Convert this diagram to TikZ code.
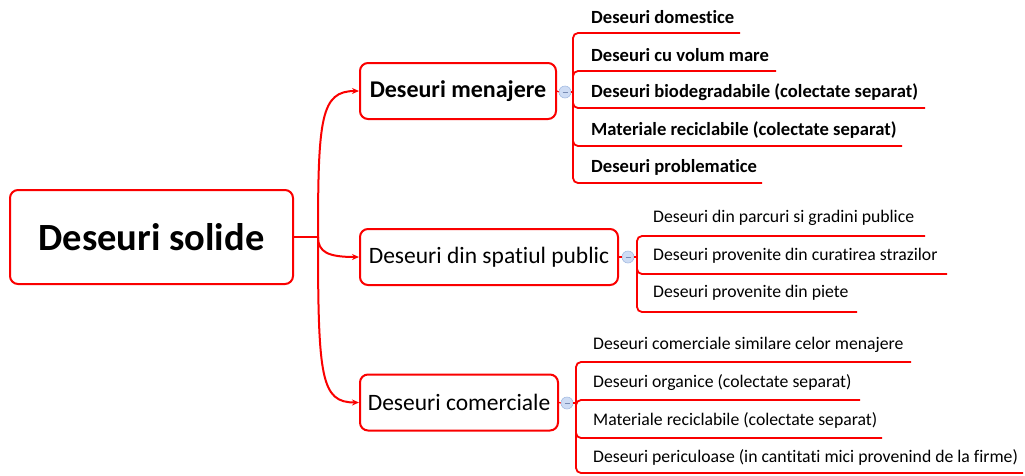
\documentclass[tikz,border=0pt]{standalone}
\usepackage{fontspec}
\setmainfont{Carlito}[Ligatures={NoCommon}]
\usetikzlibrary{arrows.meta}
\definecolor{mapred}{RGB}{250,0,0}
\definecolor{knobfill}{RGB}{206,220,244}
\definecolor{knobline}{RGB}{165,188,226}
\definecolor{knobdash}{RGB}{120,140,180}
\begin{document}
\begin{tikzpicture}[x=1pt,y=-1pt,
  box/.style={draw=mapred, line width=2pt, rounded corners=8pt, fill=white,
    inner sep=0pt, align=center, text=black},
  rootbox/.style={box, minimum width=283pt, minimum height=94pt,
    font=\fontsize{38.5}{44}\selectfont\bfseries},
  branchbox/.style={box, minimum height=56pt, font=\fontsize{23.5}{26}\selectfont},
  boldleaf/.style={anchor=west, inner sep=0pt, text=black,
    font=\fontsize{18.6}{20}\selectfont\bfseries},
  leaf/.style={anchor=west, inner sep=0pt, text=black,
    font=\fontsize{17.7}{19}\selectfont},
  conn/.style={draw=mapred, line width=2pt},
  branchconn/.style={conn, -{Stealth[length=7pt,width=6pt]}},
  leafline/.style={draw=mapred, line width=1.8pt, rounded corners=5pt},
  knob/.style={circle, draw=knobline, fill=knobfill, line width=0.6pt,
    minimum size=12pt, inner sep=0pt}
]
\useasboundingbox (0,0) rectangle (1025,475);

% central topic
\node[rootbox] (root) at (151.5,237) {Deseuri solide};

% main branches
\node[branchbox, minimum width=196pt, font=\fontsize{24}{26}\selectfont\bfseries]
  (men) at (458,91) {Deseuri menajere};
\node[branchbox, minimum width=258pt] (pub) at (489,257) {Deseuri din spatiul public};
\node[branchbox, minimum width=198pt] (com) at (459,402.5) {Deseuri comerciale};

% curved connectors from the central topic
\coordinate (hub) at (318,237);
\draw[conn] (root.east) -- (hub);
\draw[branchconn] (hub) .. controls (318,118) and (321,91) .. (men.west);
\draw[branchconn] (hub) .. controls (318,252) and (328,257) .. (pub.west);
\draw[branchconn] (hub) .. controls (318,378) and (321,402.5) .. (com.west);

% collapse knobs
\node[knob] (k1) at (565,92) {};
\node[knob] (k2) at (628,257) {};
\node[knob] (k3) at (567,403) {};
\foreach \k in {k1,k2,k3}
  \draw[knobdash, line width=0.6pt] ([xshift=-2.5pt]\k.center) -- ([xshift=2.5pt]\k.center);
\draw[conn, line width=1.2pt] (men.east) -- (k1.west);
\draw[conn, line width=1.2pt] (pub.east) -- (k2.west);
\draw[conn, line width=1.2pt] (com.east) -- (k3.west);

% --- Deseuri menajere
\coordinate (j1) at (573,92);
\draw[conn, line width=1.2pt] (k1.east) -- (j1);
\node[boldleaf] (m1) at (591,17) {Deseuri domestice};
\node[boldleaf] (m2) at (591,55) {Deseuri cu volum mare};
\node[boldleaf] (m3) at (591,92) {Deseuri biodegradabile (colectate separat)};
\node[boldleaf] (m4) at (591,130) {Materiale reciclabile (colectate separat)};
\node[boldleaf] (m5) at (591,167) {Deseuri problematice};
\coordinate (m1e) at (740,33);
\coordinate (m2e) at (776,71);
\coordinate (m3e) at (925,108);
\coordinate (m4e) at (902,146);
\coordinate (m5e) at (762,183);
\foreach \e in {m1e,m2e,m3e,m4e,m5e}
  \draw[leafline] (j1) |- (\e);

% --- Deseuri din spatiul public
\coordinate (j2) at (637,257);
\draw[conn, line width=1.2pt] (k2.east) -- (j2);
\node[leaf] (p1) at (653,218) {Deseuri din parcuri si gradini publice};
\node[leaf] (p2) at (653,256) {Deseuri provenite din curatirea strazilor};
\node[leaf] (p3) at (653,293) {Deseuri provenite din piete};
\coordinate (p1e) at (925,236);
\coordinate (p2e) at (947,274);
\coordinate (p3e) at (857,312);
\foreach \e in {p1e,p2e,p3e}
  \draw[leafline] (j2) |- (\e);

% --- Deseuri comerciale
\coordinate (j3) at (576,403);
\draw[conn, line width=1.2pt] (k3.east) -- (j3);
\node[leaf] (c1) at (593,345) {Deseuri comerciale similare celor menajere};
\node[leaf] (c2) at (593,383) {Deseuri organice (colectate separat)};
\node[leaf] (c3) at (593,420) {Materiale reciclabile (colectate separat)};
\node[leaf] (c4) at (593,457) {Deseuri periculoase (in cantitati mici provenind de la firme)};
\coordinate (c1e) at (911,362);
\coordinate (c2e) at (860,400);
\coordinate (c3e) at (882,438);
\coordinate (c4e) at (1023,473);
\foreach \e in {c1e,c2e,c3e,c4e}
  \draw[leafline] (j3) |- (\e);
\end{tikzpicture}
\end{document}
